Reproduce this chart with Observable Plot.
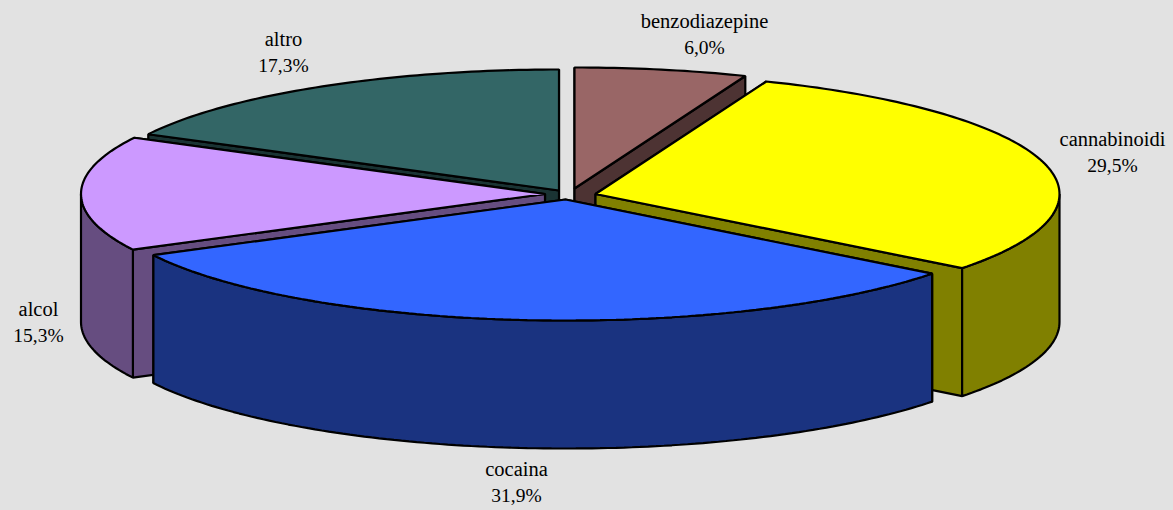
<!DOCTYPE html>
<html>
<head>
<meta charset="utf-8">
<script src="https://cdn.jsdelivr.net/npm/d3@7"></script>
<script src="https://cdn.jsdelivr.net/npm/@observablehq/plot@0.6"></script>
<style>
html,body{margin:0;padding:0;background:#e2e2e2;overflow:hidden}
svg{display:block}
</style>
</head>
<body>
<div id="chart"></div>
<script>
// Data
const categories = ["benzodiazepine", "cannabinoidi", "cocaina", "alcol", "altro"];
const shares = [6.0, 29.5, 31.9, 15.3, 17.3];

// Styles
const topColors = ["#996666", "#ffff00", "#3366ff", "#cc99ff", "#336666"];
const wallColors = ["#4d3333", "#808000", "#1a3380", "#664d80", "#1a3333"];

// Layout: pie radius and centre in pixels, slice displacement in pie radii
const W = 1173, H = 510, cx = 569, cy = 194, rx = 464, ry = 121, depth = 128 / ry;
const explodeX = [5, 26, -4, -24.5, -10.5].map((d) => d / rx);
const explodeY = [6, 0.5, -5, 0.5, 4].map((d) => d / ry);
const labelAt = [[704, 34], [1112, 152], [516, 482], [38, 322], [283, 52]];
const drawOrder = [0, 4, 3, 1, 2];

const toX = (px) => (px - cx) / rx;
const toY = (px) => (cy - px) / ry;

// Slice angles accumulated from the shares, clockwise from twelve o'clock
const total = d3.sum(shares);
const cumulative = d3.cumsum(shares);
const angles = shares.map((_, i) => [
  (i ? cumulative[i - 1] : 0) / total * 2 * Math.PI,
  cumulative[i] / total * 2 * Math.PI
]);

function arc(a0, a1) {
  const n = Math.max(2, Math.ceil((a1 - a0) / (Math.PI / 180)));
  return d3.range(n + 1).map((k) => {
    const t = a0 + (a1 - a0) * k / n;
    return [Math.sin(t), Math.cos(t)];
  });
}

const polys = [];
let id = 0;
function addPoly(pts, i, color) {
  const z = id++;
  for (const [x, y] of pts) {
    polys.push({x: x + explodeX[i], y: y + explodeY[i], z, color});
  }
}
const drop = (pts) => pts.map(([x, y]) => [x, y - depth]);

for (const i of drawOrder) {
  const [a0, a1] = angles[i];
  const p0 = [Math.sin(a0), Math.cos(a0)];
  const p1 = [Math.sin(a1), Math.cos(a1)];
  const apex = [0, 0];
  // Radial walls, the one further back first
  const quad = (p) => [apex, p, ...drop([p, apex])];
  for (const p of [p0, p1].sort((a, b) => b[1] - a[1])) {
    addPoly(quad(p), i, wallColors[i]);
  }
  // Outer wall, front half only
  const f0 = Math.max(a0, Math.PI / 2), f1 = Math.min(a1, 3 * Math.PI / 2);
  if (f1 > f0) {
    const rim = arc(f0, f1);
    addPoly([...rim, ...drop(rim).reverse()], i, wallColors[i]);
  }
  // Top face
  addPoly([apex, ...arc(a0, a1)], i, topColors[i]);
}

const labels = categories.map((name, i) => ({
  name,
  value: `${shares[i].toFixed(1).replace(".", ",")}%`,
  x: toX(labelAt[i][0]),
  y: toY(labelAt[i][1])
}));

const textStyle = {
  x: "x", y: "y",
  fill: "#000000",
  fontFamily: "Liberation Serif",
  textAnchor: "middle"
};

const chart = Plot.plot({
  width: W,
  height: H,
  margin: 0,
  style: {background: "#e2e2e2"},
  x: {type: "linear", domain: [-1, 1], range: [cx - rx, cx + rx], axis: null},
  y: {type: "linear", domain: [-1, 1], range: [cy + ry, cy - ry], axis: null},
  marks: [
    Plot.line(polys, {
      x: "x", y: "y", z: "z",
      fill: "color",
      stroke: "#000000",
      strokeWidth: 2.2,
      strokeLinejoin: "miter",
      curve: "linear-closed"
    }),
    Plot.text(labels, {...textStyle, text: "name", fontSize: 20.5, dy: -13}),
    Plot.text(labels, {...textStyle, text: "value", fontSize: 19.5, dy: 13})
  ]
});
document.getElementById("chart").append(chart);
</script>
</body>
</html>
